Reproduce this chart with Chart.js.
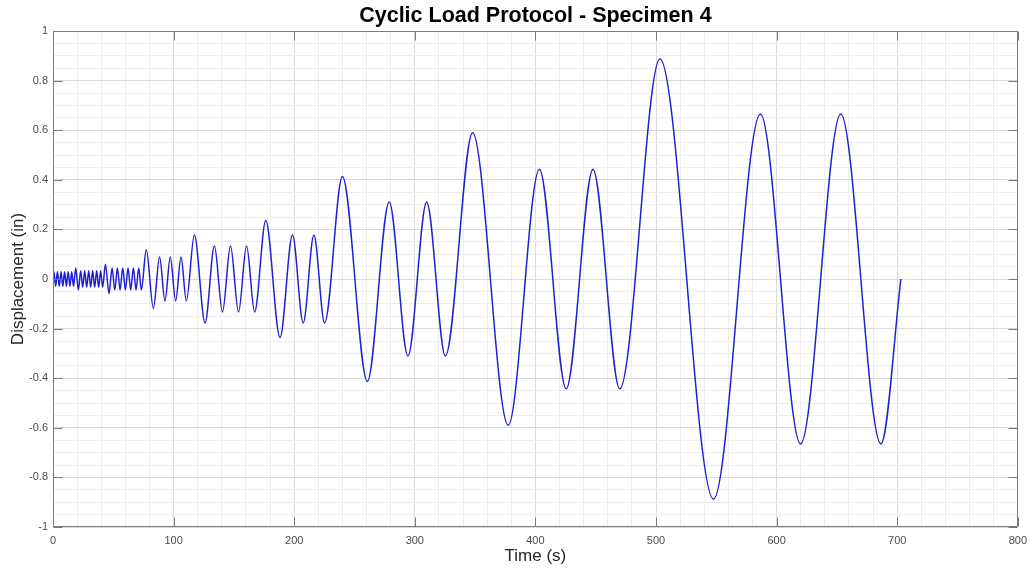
<!DOCTYPE html>
<html>
<head>
<meta charset="utf-8">
<script src="https://cdn.jsdelivr.net/npm/chart.js@4"></script>
<style>
  html, body { margin: 0; padding: 0; background: #ffffff; }
  #wrap { width: 1034px; height: 576px; position: relative; }
</style>
</head>
<body>
<div id="wrap"><canvas id="c"></canvas></div>
<script>
// Start, peaks/troughs, end of the displacement history
const peakTimes = [
  0,
  0.74, 2.22, 3.69, 5.17, 6.65, 8.13, 9.61, 11.08, 12.56, 14.04, 15.52, 17.00,
  18.84, 21.05,
  22.97, 24.63, 26.28, 27.94, 29.59, 31.24, 32.90, 34.55, 36.21, 37.86, 39.51, 41.17,
  43.47, 46.43,
  49.00, 51.21, 53.41, 55.62, 57.82, 60.03, 62.24, 64.44, 66.65, 68.85, 71.06, 73.26,
  77.32, 83.23,
  88.40, 92.83, 97.27, 101.70, 106.14, 110.57,
  117.22, 126.09,
  133.85, 140.52, 147.18, 153.84, 160.50, 167.17,
  176.41, 188.24,
  198.58, 207.45, 216.32, 225.19,
  239.97, 260.66,
  278.77, 294.30, 309.83, 325.36,
  347.90, 377.46,
  403.34, 425.53, 447.73, 469.92,
  503.24, 547.68,
  586.56, 619.87, 653.19, 686.51,
  703.00
];
const peakDisp = [
  0,
  0.0295, -0.0295, 0.0295, -0.0295, 0.0295, -0.0295, 0.0295, -0.0295, 0.0295, -0.0295, 0.0295, -0.0295,
  0.044, -0.044,
  0.033, -0.033, 0.033, -0.033, 0.033, -0.033, 0.033, -0.033, 0.033, -0.033, 0.033, -0.033,
  0.059, -0.059,
  0.044, -0.044, 0.044, -0.044, 0.044, -0.044, 0.044, -0.044, 0.044, -0.044, 0.044, -0.044,
  0.118, -0.118,
  0.0885, -0.0885, 0.0885, -0.0885, 0.0885, -0.0885,
  0.177, -0.177,
  0.133, -0.133, 0.133, -0.133, 0.133, -0.133,
  0.236, -0.236,
  0.177, -0.177, 0.177, -0.177,
  0.413, -0.413,
  0.31, -0.31, 0.31, -0.31,
  0.59, -0.59,
  0.443, -0.443, 0.443, -0.443,
  0.887, -0.887,
  0.665, -0.665, 0.665, -0.665,
  0
];
const xTickLabels = [0, 100, 200, 300, 400, 500, 600, 700, 800];
const yTickLabels = [-1, -0.8, -0.6, -0.4, -0.2, 0, 0.2, 0.4, 0.6, 0.8, 1];

const FONT = "'Liberation Sans', Arial, Helvetica, sans-serif";
const isMajorX = v => xTickLabels.some(t => Math.abs(t - v) < 1e-6);
const isMajorY = v => yTickLabels.some(t => Math.abs(t - v) < 1e-6);

const points = peakTimes.map((t, i) => ({ x: t, y: peakDisp[i] }));

const boxPlugin = {
  id: 'matlabBox',
  afterDatasetsDraw(chart) {
    const { ctx, chartArea: a, scales: { x, y } } = chart;
    ctx.save();
    ctx.strokeStyle = '#7a7a7a';
    ctx.lineWidth = 1;
    const L = Math.round(a.left) + 0.5, R = Math.round(a.right) - 0.5;
    const T = Math.round(a.top) + 0.5, B = Math.round(a.bottom) - 0.5;
    ctx.beginPath();
    ctx.rect(L, T, R - L, B - T);
    const len = 9;
    xTickLabels.forEach(v => {
      const px = Math.round(x.getPixelForValue(v)) + 0.5;
      ctx.moveTo(px, B); ctx.lineTo(px, B - len);
      ctx.moveTo(px, T); ctx.lineTo(px, T + len);
    });
    yTickLabels.forEach(v => {
      const py = Math.round(y.getPixelForValue(v)) + 0.5;
      ctx.moveTo(L, py); ctx.lineTo(L + len, py);
      ctx.moveTo(R, py); ctx.lineTo(R - len, py);
    });
    ctx.stroke();
    ctx.restore();
  }
};

new Chart(document.getElementById('c'), {
  type: 'line',
  data: {
    datasets: [{
      data: points,
      borderColor: 'rgb(32,32,210)',
      borderWidth: 1.5,
      pointRadius: 0,
      fill: false,
      cubicInterpolationMode: 'monotone'
    }]
  },
  options: {
    responsive: true,
    maintainAspectRatio: false,
    animation: false,
    events: [],
    layout: { padding: { left: 0, right: 14, top: 0, bottom: 0 } },
    plugins: {
      legend: { display: false },
      tooltip: { enabled: false },
      title: {
        display: true,
        fullSize: false,
        text: 'Cyclic Load Protocol - Specimen 4',
        color: '#000000',
        font: { family: FONT, size: 21.5, weight: 'bold', lineHeight: 1 },
        padding: { top: 5, bottom: 4.5 }
      }
    },
    scales: {
      x: {
        type: 'linear',
        min: 0, max: 800,
        afterFit: s => { s.height = 49; },
        border: { display: false },
        grid: {
          drawTicks: false,
          lineWidth: 1,
          color: c => isMajorX(c.tick.value) ? '#dadada' : '#eeeeee'
        },
        ticks: {
          stepSize: 20,
          autoSkip: false,
          maxRotation: 0,
          padding: 7,
          color: '#4a4a4a',
          font: { family: FONT, size: 11 },
          callback: v => isMajorX(v) ? String(Math.round(v)) : ''
        },
        title: {
          display: true,
          text: 'Time (s)',
          color: '#262626',
          font: { family: FONT, size: 17 },
          padding: { top: 0, bottom: 9 }
        }
      },
      y: {
        type: 'linear',
        min: -1, max: 1,
        afterFit: s => { s.width = 53; },
        border: { display: false },
        grid: {
          drawTicks: false,
          lineWidth: 1,
          color: c => isMajorY(c.tick.value) ? '#dadada' : '#eeeeee'
        },
        ticks: {
          stepSize: 0.05,
          autoSkip: false,
          padding: 5,
          color: '#4a4a4a',
          font: { family: FONT, size: 11 },
          callback: v => isMajorY(v) ? String(Math.round(v * 10) / 10) : ''
        },
        title: {
          display: true,
          text: 'Displacement (in)',
          color: '#262626',
          font: { family: FONT, size: 17 },
          padding: { top: 8, bottom: 0 }
        }
      }
    }
  },
  plugins: [boxPlugin]
});
</script>
</body>
</html>
